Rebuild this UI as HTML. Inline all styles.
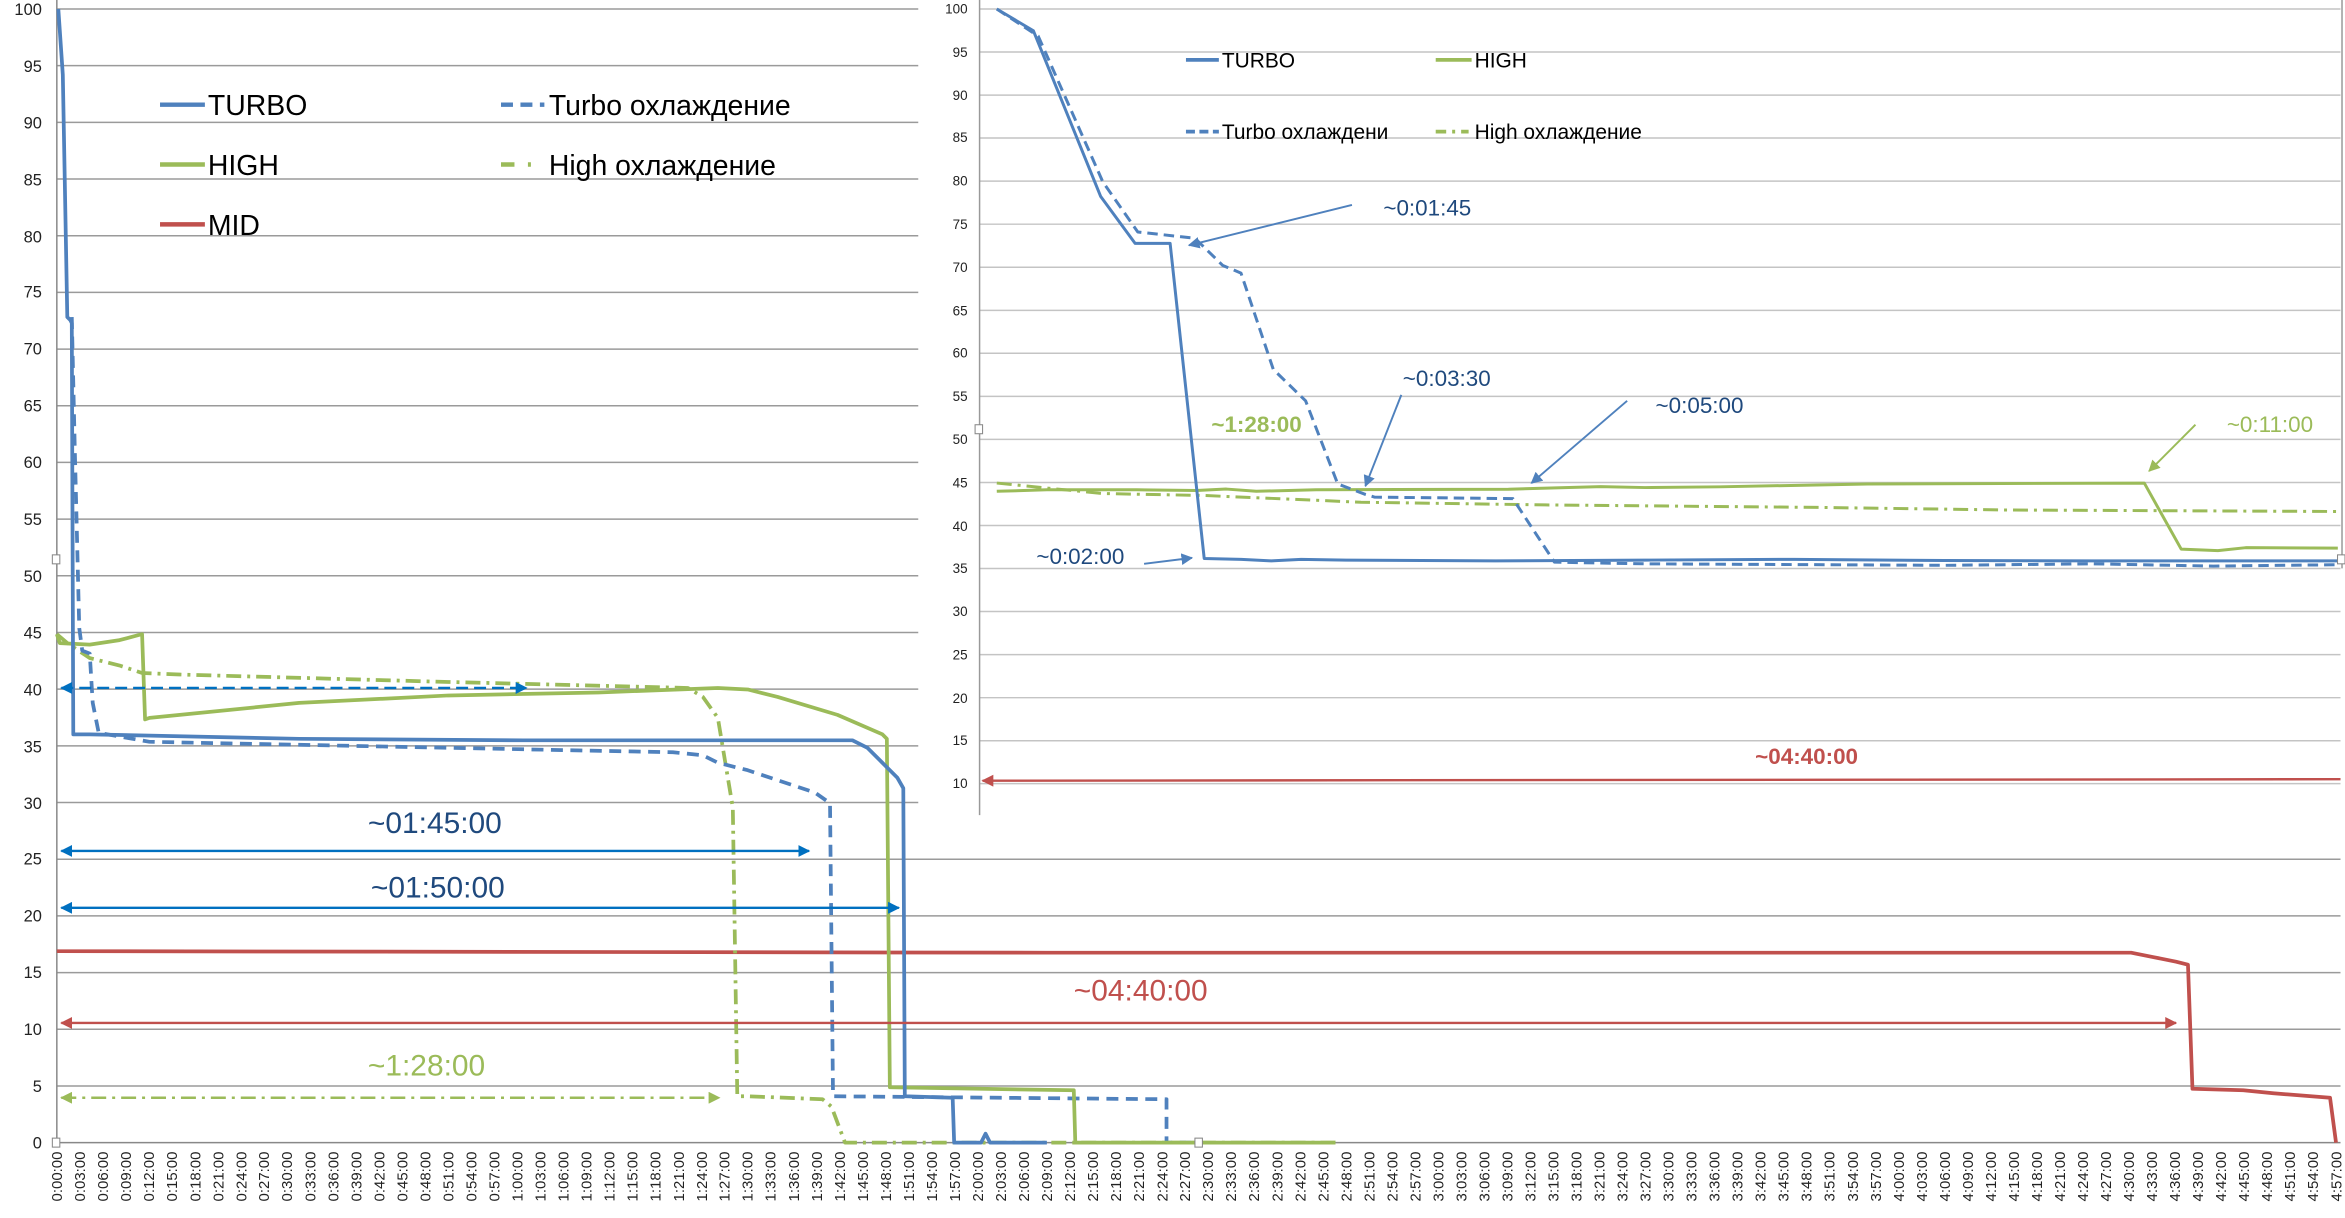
<!DOCTYPE html>
<html><head><meta charset="utf-8"><style>
html,body{margin:0;padding:0;background:#fff;}
svg{display:block;}
text{font-family:"Liberation Sans","DejaVu Sans",sans-serif;}
</style></head><body>
<svg width="2345" height="1218" viewBox="0 0 1568 814.4" preserveAspectRatio="none" xmlns="http://www.w3.org/2000/svg">
<defs>
<marker id="ab" viewBox="0 0 10 10" refX="9" refY="5" markerWidth="5" markerHeight="5" orient="auto-start-reverse"><path d="M0,0L10,5L0,10z" fill="#0070C0"/></marker>
<marker id="ar" viewBox="0 0 10 10" refX="9" refY="5" markerWidth="5" markerHeight="5" orient="auto-start-reverse"><path d="M0,0L10,5L0,10z" fill="#C0504D"/></marker>
<marker id="ag" viewBox="0 0 10 10" refX="9" refY="5" markerWidth="5" markerHeight="5" orient="auto-start-reverse"><path d="M0,0L10,5L0,10z" fill="#9BBB59"/></marker>
<marker id="ai" viewBox="0 0 10 10" refX="9" refY="5" markerWidth="6" markerHeight="6" orient="auto"><path d="M0,0L10,5L0,10z" fill="#4F81BD"/></marker>
<marker id="aig" viewBox="0 0 10 10" refX="9" refY="5" markerWidth="6" markerHeight="6" orient="auto"><path d="M0,0L10,5L0,10z" fill="#9BBB59"/></marker>
</defs>
<rect width="1568" height="815" fill="#fff"/>
<!-- main grid -->
<g stroke="#9a9a9a" stroke-width="1">
<line x1="38" x2="1565" y1="6" y2="6"/><line x1="38" x2="1565" y1="43.9" y2="43.9"/><line x1="38" x2="1565" y1="81.8" y2="81.8"/><line x1="38" x2="1565" y1="119.7" y2="119.7"/><line x1="38" x2="1565" y1="157.6" y2="157.6"/><line x1="38" x2="1565" y1="195.5" y2="195.5"/><line x1="38" x2="1565" y1="233.4" y2="233.4"/><line x1="38" x2="1565" y1="271.3" y2="271.3"/><line x1="38" x2="1565" y1="309.2" y2="309.2"/><line x1="38" x2="1565" y1="347.1" y2="347.1"/><line x1="38" x2="1565" y1="385" y2="385"/><line x1="38" x2="1565" y1="422.9" y2="422.9"/><line x1="38" x2="1565" y1="460.8" y2="460.8"/><line x1="38" x2="1565" y1="498.7" y2="498.7"/><line x1="38" x2="1565" y1="536.6" y2="536.6"/><line x1="38" x2="1565" y1="574.5" y2="574.5"/><line x1="38" x2="1565" y1="612.4" y2="612.4"/><line x1="38" x2="1565" y1="650.3" y2="650.3"/><line x1="38" x2="1565" y1="688.2" y2="688.2"/><line x1="38" x2="1565" y1="726.1" y2="726.1"/>
<line x1="38" x2="1565" y1="764" y2="764" stroke="#888"/>
<line x1="38" x2="38" y1="0" y2="764" stroke="#888"/>
</g>
<g font-size="11" fill="#222" text-anchor="end">
<text x="28" y="10">100</text><text x="28" y="48">95</text><text x="28" y="86">90</text><text x="28" y="124">85</text><text x="28" y="162">80</text><text x="28" y="199">75</text><text x="28" y="237">70</text><text x="28" y="275">65</text><text x="28" y="313">60</text><text x="28" y="351">55</text><text x="28" y="389">50</text><text x="28" y="427">45</text><text x="28" y="465">40</text><text x="28" y="503">35</text><text x="28" y="541">30</text><text x="28" y="578">25</text><text x="28" y="616">20</text><text x="28" y="654">15</text><text x="28" y="692">10</text><text x="28" y="730">5</text><text x="28" y="768">0</text>
</g>
<!-- x labels -->
<g font-size="10" fill="#222" text-anchor="end">
<g><text transform="translate(41.5,770) rotate(-90)">0:00:00</text><text transform="translate(56.9,770) rotate(-90)">0:03:00</text><text transform="translate(72.3,770) rotate(-90)">0:06:00</text><text transform="translate(87.7,770) rotate(-90)">0:09:00</text><text transform="translate(103.1,770) rotate(-90)">0:12:00</text><text transform="translate(118.5,770) rotate(-90)">0:15:00</text><text transform="translate(133.9,770) rotate(-90)">0:18:00</text><text transform="translate(149.3,770) rotate(-90)">0:21:00</text><text transform="translate(164.7,770) rotate(-90)">0:24:00</text><text transform="translate(180,770) rotate(-90)">0:27:00</text><text transform="translate(195.4,770) rotate(-90)">0:30:00</text><text transform="translate(210.8,770) rotate(-90)">0:33:00</text><text transform="translate(226.2,770) rotate(-90)">0:36:00</text><text transform="translate(241.6,770) rotate(-90)">0:39:00</text><text transform="translate(257,770) rotate(-90)">0:42:00</text><text transform="translate(272.4,770) rotate(-90)">0:45:00</text><text transform="translate(287.8,770) rotate(-90)">0:48:00</text><text transform="translate(303.2,770) rotate(-90)">0:51:00</text><text transform="translate(318.6,770) rotate(-90)">0:54:00</text><text transform="translate(334,770) rotate(-90)">0:57:00</text></g>
<g transform="translate(307.9,0)"><text transform="translate(41.5,770) rotate(-90)">1:00:00</text><text transform="translate(56.9,770) rotate(-90)">1:03:00</text><text transform="translate(72.3,770) rotate(-90)">1:06:00</text><text transform="translate(87.7,770) rotate(-90)">1:09:00</text><text transform="translate(103.1,770) rotate(-90)">1:12:00</text><text transform="translate(118.5,770) rotate(-90)">1:15:00</text><text transform="translate(133.9,770) rotate(-90)">1:18:00</text><text transform="translate(149.3,770) rotate(-90)">1:21:00</text><text transform="translate(164.7,770) rotate(-90)">1:24:00</text><text transform="translate(180,770) rotate(-90)">1:27:00</text><text transform="translate(195.4,770) rotate(-90)">1:30:00</text><text transform="translate(210.8,770) rotate(-90)">1:33:00</text><text transform="translate(226.2,770) rotate(-90)">1:36:00</text><text transform="translate(241.6,770) rotate(-90)">1:39:00</text><text transform="translate(257,770) rotate(-90)">1:42:00</text><text transform="translate(272.4,770) rotate(-90)">1:45:00</text><text transform="translate(287.8,770) rotate(-90)">1:48:00</text><text transform="translate(303.2,770) rotate(-90)">1:51:00</text><text transform="translate(318.6,770) rotate(-90)">1:54:00</text><text transform="translate(334,770) rotate(-90)">1:57:00</text></g>
<g transform="translate(615.8,0)"><text transform="translate(41.5,770) rotate(-90)">2:00:00</text><text transform="translate(56.9,770) rotate(-90)">2:03:00</text><text transform="translate(72.3,770) rotate(-90)">2:06:00</text><text transform="translate(87.7,770) rotate(-90)">2:09:00</text><text transform="translate(103.1,770) rotate(-90)">2:12:00</text><text transform="translate(118.5,770) rotate(-90)">2:15:00</text><text transform="translate(133.9,770) rotate(-90)">2:18:00</text><text transform="translate(149.3,770) rotate(-90)">2:21:00</text><text transform="translate(164.7,770) rotate(-90)">2:24:00</text><text transform="translate(180,770) rotate(-90)">2:27:00</text><text transform="translate(195.4,770) rotate(-90)">2:30:00</text><text transform="translate(210.8,770) rotate(-90)">2:33:00</text><text transform="translate(226.2,770) rotate(-90)">2:36:00</text><text transform="translate(241.6,770) rotate(-90)">2:39:00</text><text transform="translate(257,770) rotate(-90)">2:42:00</text><text transform="translate(272.4,770) rotate(-90)">2:45:00</text><text transform="translate(287.8,770) rotate(-90)">2:48:00</text><text transform="translate(303.2,770) rotate(-90)">2:51:00</text><text transform="translate(318.6,770) rotate(-90)">2:54:00</text><text transform="translate(334,770) rotate(-90)">2:57:00</text></g>
<g transform="translate(923.6,0)"><text transform="translate(41.5,770) rotate(-90)">3:00:00</text><text transform="translate(56.9,770) rotate(-90)">3:03:00</text><text transform="translate(72.3,770) rotate(-90)">3:06:00</text><text transform="translate(87.7,770) rotate(-90)">3:09:00</text><text transform="translate(103.1,770) rotate(-90)">3:12:00</text><text transform="translate(118.5,770) rotate(-90)">3:15:00</text><text transform="translate(133.9,770) rotate(-90)">3:18:00</text><text transform="translate(149.3,770) rotate(-90)">3:21:00</text><text transform="translate(164.7,770) rotate(-90)">3:24:00</text><text transform="translate(180,770) rotate(-90)">3:27:00</text><text transform="translate(195.4,770) rotate(-90)">3:30:00</text><text transform="translate(210.8,770) rotate(-90)">3:33:00</text><text transform="translate(226.2,770) rotate(-90)">3:36:00</text><text transform="translate(241.6,770) rotate(-90)">3:39:00</text><text transform="translate(257,770) rotate(-90)">3:42:00</text><text transform="translate(272.4,770) rotate(-90)">3:45:00</text><text transform="translate(287.8,770) rotate(-90)">3:48:00</text><text transform="translate(303.2,770) rotate(-90)">3:51:00</text><text transform="translate(318.6,770) rotate(-90)">3:54:00</text><text transform="translate(334,770) rotate(-90)">3:57:00</text></g>
<g transform="translate(1231.5,0)"><text transform="translate(41.5,770) rotate(-90)">4:00:00</text><text transform="translate(56.9,770) rotate(-90)">4:03:00</text><text transform="translate(72.3,770) rotate(-90)">4:06:00</text><text transform="translate(87.7,770) rotate(-90)">4:09:00</text><text transform="translate(103.1,770) rotate(-90)">4:12:00</text><text transform="translate(118.5,770) rotate(-90)">4:15:00</text><text transform="translate(133.9,770) rotate(-90)">4:18:00</text><text transform="translate(149.3,770) rotate(-90)">4:21:00</text><text transform="translate(164.7,770) rotate(-90)">4:24:00</text><text transform="translate(180,770) rotate(-90)">4:27:00</text><text transform="translate(195.4,770) rotate(-90)">4:30:00</text><text transform="translate(210.8,770) rotate(-90)">4:33:00</text><text transform="translate(226.2,770) rotate(-90)">4:36:00</text><text transform="translate(241.6,770) rotate(-90)">4:39:00</text><text transform="translate(257,770) rotate(-90)">4:42:00</text><text transform="translate(272.4,770) rotate(-90)">4:45:00</text><text transform="translate(287.8,770) rotate(-90)">4:48:00</text><text transform="translate(303.2,770) rotate(-90)">4:51:00</text><text transform="translate(318.6,770) rotate(-90)">4:54:00</text><text transform="translate(334,770) rotate(-90)">4:57:00</text></g>
</g>
<!-- main series -->
<g fill="none" stroke-width="2.5" stroke-linejoin="round">
<polyline stroke="#C0504D" points="38,636 700,637 1425,637 1440,640 1455,643 1463,645 1466,728 1500,729 1520,731 1558,734 1562,764"/>
<polyline stroke="#9BBB59" stroke-dasharray="10,4,2,4" points="38,424 45,430 60,440 80,445 95,450 120,451 300,456 460,460 470,466 480,480 490,540 493,733 500,733 550,735 556,740 565,764 893,764"/>
<polyline stroke="#4F81BD" stroke-dasharray="8,5" points="48,212 50,300 53,420 55,435 60,437 62,470 66,490 100,496 300,500 450,503 470,505 480,510 500,515 530,525 545,530 555,537 557,733 780,735 780,764 800,764"/>
<polyline stroke="#9BBB59" points="38,424 40,430 60,431 80,428 95,424 97,481 100,480 200,470 300,465 400,463 480,460 500,461 520,466 560,478 590,491 593,494 595,727 718,729 719,764 893,764"/>
<polyline stroke="#4F81BD" points="39,6 42,50 45,212 47,214 48,216 49,491 60,491 200,494 350,495 570,495 580,500 590,510 600,520 604,527 605,733 637,734 638,764 656,764 659,758 662,764 700,764"/>
</g>
<!-- main arrows -->
<g stroke-width="1.6" fill="none">
<line x1="41" y1="460" x2="352" y2="460" stroke="#0070C0" stroke-dasharray="8,4" marker-start="url(#ab)" marker-end="url(#ab)"/>
<line x1="41" y1="569" x2="541" y2="569" stroke="#0070C0" marker-start="url(#ab)" marker-end="url(#ab)"/>
<line x1="41" y1="607" x2="601" y2="607" stroke="#0070C0" marker-start="url(#ab)" marker-end="url(#ab)"/>
<line x1="41" y1="684" x2="1455" y2="684" stroke="#C0504D" marker-start="url(#ar)" marker-end="url(#ar)"/>
<line x1="41" y1="734" x2="481" y2="734" stroke="#9BBB59" stroke-dasharray="10,4,2,4" marker-start="url(#ag)" marker-end="url(#ag)"/>
</g>
<g font-size="20">
<text x="246" y="557" fill="#1F497D">~01:45:00</text>
<text x="248" y="600" fill="#1F497D">~01:50:00</text>
<text x="718" y="669" fill="#C0504D">~04:40:00</text>
<text x="246" y="719" fill="#9BBB59">~1:28:00</text>
</g>
<!-- main legend -->
<g stroke-width="3" fill="none">
<line x1="107" x2="137" y1="70" y2="70" stroke="#4F81BD"/>
<line x1="107" x2="137" y1="110" y2="110" stroke="#9BBB59"/>
<line x1="107" x2="137" y1="150" y2="150" stroke="#C0504D"/>
<line x1="335" x2="364" y1="70" y2="70" stroke="#4F81BD" stroke-dasharray="8,5"/>
<line x1="335" x2="364" y1="110" y2="110" stroke="#9BBB59" stroke-dasharray="9,9,2,9"/>
</g>
<g font-size="19" fill="#000">
<text x="139" y="77">TURBO</text><text x="139" y="117">HIGH</text><text x="139" y="157">MID</text>
<text x="367" y="77">Turbo охлаждение</text><text x="367" y="117">High охлаждение</text>
</g>
<rect x="35" y="371" width="5" height="6" fill="#fff" stroke="#888" stroke-width="0.7"/>
<rect x="35" y="761" width="5" height="6" fill="#fff" stroke="#888" stroke-width="0.7"/>
<rect x="799" y="761" width="5" height="6" fill="#fff" stroke="#888" stroke-width="0.7"/>
<!-- inset -->
<rect x="614" y="0" width="954" height="545" fill="#fff"/>
<g stroke="#c4c4c4" stroke-width="1">
<line x1="655" x2="1565" y1="6" y2="6"/><line x1="655" x2="1565" y1="34.8" y2="34.8"/><line x1="655" x2="1565" y1="63.6" y2="63.6"/><line x1="655" x2="1565" y1="92.3" y2="92.3"/><line x1="655" x2="1565" y1="121.1" y2="121.1"/><line x1="655" x2="1565" y1="149.9" y2="149.9"/><line x1="655" x2="1565" y1="178.7" y2="178.7"/><line x1="655" x2="1565" y1="207.5" y2="207.5"/><line x1="655" x2="1565" y1="236.2" y2="236.2"/><line x1="655" x2="1565" y1="265" y2="265"/><line x1="655" x2="1565" y1="293.8" y2="293.8"/><line x1="655" x2="1565" y1="322.6" y2="322.6"/><line x1="655" x2="1565" y1="351.4" y2="351.4"/><line x1="655" x2="1565" y1="380.1" y2="380.1"/><line x1="655" x2="1565" y1="408.9" y2="408.9"/><line x1="655" x2="1565" y1="437.7" y2="437.7"/><line x1="655" x2="1565" y1="466.5" y2="466.5"/><line x1="655" x2="1565" y1="495.3" y2="495.3"/><line x1="655" x2="1565" y1="524" y2="524"/>
<line x1="655" x2="655" y1="0" y2="545" stroke="#999"/>
<line x1="1566" x2="1566" y1="0" y2="380" stroke="#999"/>
</g>
<g font-size="9" fill="#222" text-anchor="end">
<text x="647" y="9">100</text><text x="647" y="38">95</text><text x="647" y="67">90</text><text x="647" y="95">85</text><text x="647" y="124">80</text><text x="647" y="153">75</text><text x="647" y="182">70</text><text x="647" y="211">65</text><text x="647" y="239">60</text><text x="647" y="268">55</text><text x="647" y="297">50</text><text x="647" y="326">45</text><text x="647" y="355">40</text><text x="647" y="383">35</text><text x="647" y="412">30</text><text x="647" y="441">25</text><text x="647" y="470">20</text><text x="647" y="498">15</text><text x="647" y="527">10</text>
</g>
<g fill="none" stroke-width="2" stroke-linejoin="round">
<polyline stroke="#9BBB59" stroke-dasharray="10,4,2,4" points="666.5,323 737.4,330 805.2,331.3 910,335.8 1033.2,337.6 1218,339.3 1341.4,341 1563.2,342"/>
<polyline stroke="#9BBB59" points="666.5,328.5 700,327.5 760,327.5 800,328 820,327 840,328.5 880,327.5 1008.6,327.1 1070.2,325.4 1100,326 1150,325.5 1248.9,323.6 1433.8,323 1458.5,367.2 1483,368.2 1501.6,366.2 1563.2,366.5"/>
<polyline stroke="#4F81BD" stroke-dasharray="7,4" points="666.5,6 694.2,24.1 737.4,121.6 760.8,155.1 799,159.3 817.5,177.4 829.8,182.6 851.4,247 873,268 894.5,323.6 913,330.6 919.2,332.4 1011.6,333.4 1039.4,375.9 1100,377 1300,378 1400,377 1480,378.5 1563.2,377.6"/>
<polyline stroke="#4F81BD" points="666.5,6 691,20.6 736,131.4 759,162.7 782.4,162.7 805.2,373.4 830,374 850,375 870,374 900,374.5 1000,375 1100,374.5 1200,374 1300,374.8 1400,375 1563.2,375"/>
<line x1="657" y1="522" x2="1565" y2="521" stroke="#C0504D" stroke-width="1.6" marker-start="url(#ar)"/>
</g>
<g stroke-width="1.3" fill="none">
<line x1="904" y1="137" x2="795" y2="164" stroke="#4F81BD" marker-end="url(#ai)"/>
<line x1="937" y1="264" x2="913" y2="325" stroke="#4F81BD" marker-end="url(#ai)"/>
<line x1="1088" y1="268" x2="1024" y2="323" stroke="#4F81BD" marker-end="url(#ai)"/>
<line x1="765" y1="377" x2="797" y2="373" stroke="#4F81BD" marker-end="url(#ai)"/>
<line x1="1468" y1="284" x2="1437" y2="315" stroke="#9BBB59" marker-end="url(#aig)"/>
</g>
<g font-size="15">
<text x="925" y="144" fill="#1F497D">~0:01:45</text>
<text x="938" y="258" fill="#1F497D">~0:03:30</text>
<text x="1107" y="276" fill="#1F497D">~0:05:00</text>
<text x="693" y="377" fill="#1F497D">~0:02:00</text>
<text x="1489" y="289" fill="#9BBB59">~0:11:00</text>
<text x="810" y="289" fill="#9BBB59" font-weight="bold">~1:28:00</text>
<text x="1208" y="511" fill="#C0504D" font-weight="bold" text-anchor="middle">~04:40:00</text>
</g>
<g stroke-width="2.5" fill="none">
<line x1="793" x2="815" y1="40" y2="40" stroke="#4F81BD"/>
<line x1="960" x2="984" y1="40" y2="40" stroke="#9BBB59"/>
<line x1="793" x2="815" y1="88" y2="88" stroke="#4F81BD" stroke-dasharray="6,3"/>
<line x1="960" x2="982" y1="88" y2="88" stroke="#9BBB59" stroke-dasharray="7,4,2,4"/>
</g>
<g font-size="14" fill="#000">
<text x="817" y="45">TURBO</text><text x="986" y="45">HIGH</text>
<text x="817" y="93">Turbo охлаждени</text><text x="986" y="93">High охлаждение</text>
</g>
<rect x="652" y="284" width="5" height="6" fill="#fff" stroke="#888" stroke-width="0.7"/>
<rect x="1563" y="371" width="5" height="6" fill="#fff" stroke="#888" stroke-width="0.7"/>
</svg>
</body></html>
